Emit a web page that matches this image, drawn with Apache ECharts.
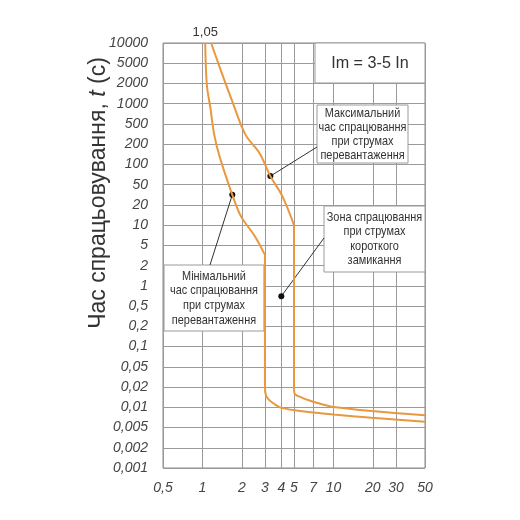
<!DOCTYPE html>
<html lang="uk">
<head>
    <meta charset="UTF-8">
    <script src="https://cdn.jsdelivr.net/npm/echarts@6/dist/echarts.min.js"></script>
    <style>
        html, body { margin: 0; padding: 0; background: #fff; }
        #pic { width: 520px; height: 520px; }
    </style>
    <title>Час спрацьовування</title>
</head>
<body>
<div id="pic"></div>
<script type="text/javascript">
    // tick values of both axes
    var xTicks = [0.5, 1, 2, 3, 4, 5, 7, 10, 20, 30, 50];
    var yTicks = [0.001, 0.002, 0.005, 0.01, 0.02, 0.05, 0.1, 0.2, 0.5, 1, 2, 5,
        10, 20, 50, 100, 200, 500, 1000, 2000, 5000, 10000];

    // мінімальний час спрацювання (I/In, t c)
    var minCurrent = [1.05, 1.08, 1.15, 1.23, 1.35, 1.69, 1.97, 2.52, 3.0, 3.0, 3.05, 3.2, 3.49, 4.0, 6.47, 10, 19.6, 50];
    var minTime = [10000, 1930, 865, 308, 132, 31.6, 13.5, 6.8, 3.25, 0.020, 0.0152, 0.0131, 0.0114, 0.0098, 0.0085, 0.0078, 0.0070, 0.0061];
    var minKnee = 8; // index where the overload part ends

    // максимальний час спрацювання
    var maxCurrent = [1.165, 1.39, 1.69, 2.13, 2.73, 3.30, 4.08, 5.0, 5.0, 5.05, 5.69, 6.47, 8.17, 10, 19.6, 50];
    var maxTime = [10000, 3470, 1087, 308, 147, 67, 29.4, 10, 0.020, 0.016, 0.014, 0.0127, 0.0111, 0.0101, 0.0088, 0.0076];
    var maxKnee = 7;

    // point inside the short-circuit zone
    var zonePoint = [4.0, 0.7];
    var startLabel = 1.05;

    var curveColor = '#E9983D';
    var gridColor = '#9a9a9a';

    function lg(v) { return Math.log10(v); }

    // time scale of the chart: every decade split into equal 1-2-5 steps
    var knots = [[0, 0], [lg(2), 1 / 3], [lg(5), 2 / 3], [1, 1]];
    function tpos(v) {
        var l = lg(v);
        var d = Math.floor(l + 1e-9);
        var f = l - d;
        for (var i = 1; i < knots.length; i++) {
            if (f <= knots[i][0] + 1e-9) {
                var a = knots[i - 1], b = knots[i];
                return d + a[1] + (f - a[0]) / (b[0] - a[0]) * (b[1] - a[1]);
            }
        }
        return d + 1;
    }

    function tickText(list, fn, v) {
        for (var i = 0; i < list.length; i++) {
            if (Math.abs(fn(list[i]) - v) < 1e-6) return String(list[i]).replace('.', ',');
        }
        return '';
    }
    function pairs(xs, ys) {
        return xs.map(function (x, i) { return [lg(x), tpos(ys[i])]; });
    }

    var xVals = xTicks.map(lg);
    var yVals = yTicks.map(tpos);
    var minData = pairs(minCurrent, minTime);
    var maxData = pairs(maxCurrent, maxTime);

    function curve(name, data, smooth) {
        return {
            name: name, type: 'line', data: data, smooth: smooth,
            showSymbol: false, silent: true, z: 100,
            lineStyle: { color: curveColor, width: 2 }
        };
    }

    var chartDom = document.getElementById('pic');
    var myChart = echarts.init(chartDom);
    var option = {
        animation: false,
        grid: {
            left: 163, right: 95, top: 43, bottom: 52,
            show: true, borderColor: '#8a8a8a', borderWidth: 1, backgroundColor: '#fff'
        },
        xAxis: {
            type: 'value',
            min: lg(0.5),
            max: lg(50),
            axisLine: { show: false },
            axisTick: { show: false, customValues: xVals },
            splitLine: { show: true, customValues: xVals, lineStyle: { color: gridColor, width: 1 } },
            axisLabel: {
                customValues: xVals,
                formatter: function (v) { return tickText(xTicks, lg, v); },
                fontFamily: 'Liberation Sans, Arial, sans-serif',
                fontStyle: 'italic', fontSize: 14, color: '#444', margin: 13
            }
        },
        yAxis: {
            type: 'value',
            min: tpos(0.001),
            max: tpos(10000),
            axisLine: { show: false },
            axisTick: { show: false, customValues: yVals },
            splitLine: { show: true, customValues: yVals, lineStyle: { color: gridColor, width: 1 } },
            axisLabel: {
                customValues: yVals,
                formatter: function (v) { return tickText(yTicks, tpos, v); },
                fontFamily: 'Liberation Sans, Arial, sans-serif',
                fontStyle: 'italic', fontSize: 14, color: '#444', margin: 15
            }
        },
        series: [
            curve('min', minData.slice(0, minKnee + 1), 0.35),
            curve('min', minData.slice(minKnee), 0.3),
            curve('max', maxData.slice(0, maxKnee + 1), 0.35),
            curve('max', maxData.slice(maxKnee), 0.3)
        ]
    };
    myChart.setOption(option);

    function px(x, y) {
        return myChart.convertToPixel({ gridIndex: 0 }, [lg(x), tpos(y)]);
    }

    var boxFont = '13px "Liberation Sans", Arial, sans-serif';

    function textBox(x1, y1, x2, y2, lines, lh) {
        return [
            {
                type: 'rect', z: 50, silent: true,
                shape: { x: x1, y: y1, width: x2 - x1, height: y2 - y1 },
                style: { fill: '#fff', stroke: '#9a9a9a', lineWidth: 1 }
            },
            {
                type: 'text', z: 51, silent: true,
                x: (x1 + x2) / 2, y: (y1 + y2) / 2, scaleX: 0.84,
                style: {
                    text: lines.join('\n'), font: boxFont, fill: '#333',
                    align: 'center', verticalAlign: 'middle', lineHeight: lh
                }
            }
        ];
    }

    function leader(from, to) {
        return [
            {
                type: 'line', z: 60, silent: true,
                shape: { x1: from[0], y1: from[1], x2: to[0], y2: to[1] },
                style: { stroke: '#333', lineWidth: 1 }
            },
            {
                type: 'circle', z: 61, silent: true,
                shape: { cx: to[0], cy: to[1], r: 3 },
                style: { fill: '#111' }
            }
        ];
    }

    var x3 = px(3, 1)[0];
    var maxDot = px(maxCurrent[5], maxTime[5]);
    var minDot = px(minCurrent[5], minTime[5]);
    var zoneDot = px(zonePoint[0], zonePoint[1]);
    var startPt = px(startLabel, 10000);

    var elements = [];
    elements = elements.concat(textBox(315, 43, 425, 83, ['Im = 3-5 In'], 18));
    elements[1].style.font = '17px "Liberation Sans", Arial, sans-serif';
    elements[1].scaleX = 0.95;
    elements = elements.concat(textBox(317, 105, 408, 163,
        ['Максимальний', 'час спрацювання', 'при струмах', 'перевантаження'], 14));
    elements = elements.concat(textBox(324, 206, 425, 272,
        ['Зона спрацювання', 'при струмах', 'короткого', 'замикання'], 14.5));
    elements = elements.concat(textBox(164, 265, x3 - 1, 331,
        ['Мінімальний', 'час спрацювання', 'при струмах', 'перевантаження'], 14.7));
    elements = elements.concat(leader([317, 147], maxDot));
    elements = elements.concat(leader([324, 238], zoneDot));
    elements = elements.concat(leader([210, 265], minDot));
    elements.push({
        type: 'text', silent: true, x: startPt[0], y: startPt[1] - 11,
        style: {
            text: '1,05', font: '13px "Liberation Sans", Arial, sans-serif', fill: '#333',
            align: 'center', verticalAlign: 'middle'
        }
    });
    elements.push({
        type: 'text', silent: true, x: 99, y: 193, rotation: Math.PI / 2,
        style: {
            text: 'Час спрацьовування, {i|t} (с)',
            font: '23px "Liberation Sans", Arial, sans-serif', fill: '#333',
            align: 'center', verticalAlign: 'middle',
            rich: {
                i: { fontStyle: 'italic', fontSize: 23, fontFamily: 'Liberation Sans, Arial, sans-serif', fill: '#333' }
            }
        }
    });

    myChart.setOption({ graphic: { elements: elements } });
</script>
</body>
</html>
